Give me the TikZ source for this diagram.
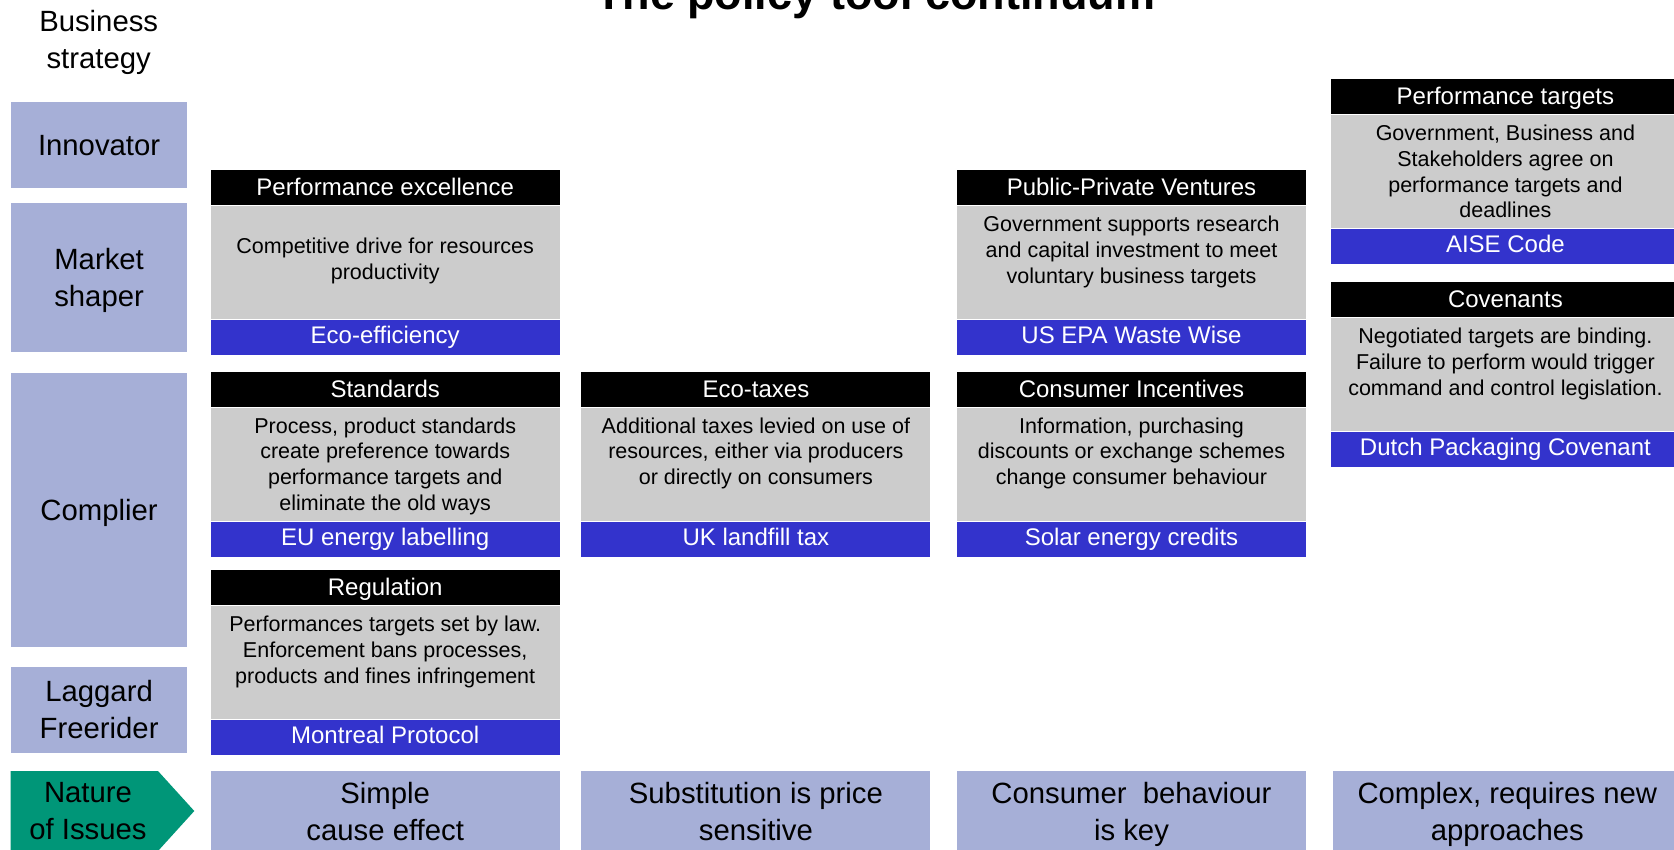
\documentclass[tikz,border=0pt]{standalone}
\usepackage{fontspec}
\setmainfont{Liberation Sans}
\definecolor{lav}{RGB}{166,175,215}
\definecolor{blu}{RGB}{51,51,204}
\definecolor{gry}{RGB}{204,204,204}
\definecolor{grn}{RGB}{0,150,120}

\begin{document}
\begin{tikzpicture}[x=0.5pt, y=-0.5pt,
    hd/.style={fill=black, text=white, minimum width=174.5pt, minimum height=17.5pt, inner sep=0pt,
        anchor=north west, font=\fontsize{12}{14}\selectfont, text height=10.2pt, text depth=2.5pt},
    bd/.style={fill=gry, minimum width=174.5pt, minimum height=56.5pt, inner sep=0pt, anchor=north west},
    ex/.style={hd, fill=blu, text height=8.6pt},
    tx/.style={anchor=north, inner xsep=0pt, inner ysep=4.9pt, align=center,
        font=\fontsize{10.75}{12.9}\selectfont, execute at begin node=\strut},
    lab/.style={fill=lav, minimum width=88pt, inner sep=0pt, align=center, anchor=north west,
        font=\fontsize{14.65}{18.5}\selectfont, text depth=0pt},
    iss/.style={lab, minimum width=174.5pt, minimum height=40pt}]
    \useasboundingbox (0,0) rectangle (1674,850);
    \clip (0,0) rectangle (1674,850);

    \node[anchor=base, font=\fontsize{22.5}{27}\selectfont\bfseries] (ttl) at (875,9.5) {The policy tool continuum};
    \node[align=center, font=\fontsize{14.65}{18.5}\selectfont, text depth=0pt] (bs) at (98.7,39) {Business\\strategy};

    \node[lab, minimum height=43.25pt] (inn) at (10.7,101.4) {Innovator};
    \node[lab, minimum height=74.2pt] (mkt) at (10.7,202.8) {Market\\shaper};
    \node[lab, minimum height=137.2pt] (cpl) at (10.7,372.6) {Complier};
    \node[lab, minimum height=43.25pt] (lag) at (10.7,666.2) {Laggard\\Freerider};

    \fill[grn] (10.7,771) -- (158,771) -- (194.3,811) -- (158,851) -- (10.7,851) -- cycle;
    \node[align=center, font=\fontsize{14.65}{18.5}\selectfont] (noi) at (88,811) {Nature\\of Issues};

    \node[hd] (pe-h) at (210.3,170) {Performance excellence};
    \node[bd] (pe-g) at (pe-h.south west) {};
    \node[ex] (pe-f) at (pe-g.south west) {Eco-efficiency};
    \node[tx, anchor=center] (pe-t) at (pe-g.center) {Competitive drive for resources\\productivity};

    \node[hd] (ppv-h) at (956.6,170) {Public-Private Ventures};
    \node[bd] (ppv-g) at (ppv-h.south west) {};
    \node[ex] (ppv-f) at (ppv-g.south west) {US EPA Waste Wise};
    \node[tx] (ppv-t) at (ppv-g.north) {Government supports research\\and capital investment to meet\\voluntary business targets};

    \node[hd] (pt-h) at (1330.5,79) {Performance targets};
    \node[bd] (pt-g) at (pt-h.south west) {};
    \node[ex] (pt-f) at (pt-g.south west) {AISE Code};
    \node[tx] (pt-t) at (pt-g.north) {Government, Business and\\Stakeholders agree on\\performance targets and\\deadlines};

    \node[hd] (cov-h) at (1330.5,282) {Covenants};
    \node[bd] (cov-g) at (cov-h.south west) {};
    \node[ex] (cov-f) at (cov-g.south west) {Dutch Packaging Covenant};
    \node[tx] (cov-t) at (cov-g.north) {Negotiated targets are binding.\\Failure to perform would trigger\\command and control legislation.};

    \node[hd] (std-h) at (210.3,371.5) {Standards};
    \node[bd] (std-g) at (std-h.south west) {};
    \node[ex] (std-f) at (std-g.south west) {EU energy labelling};
    \node[tx] (std-t) at (std-g.north) {Process, product standards\\create preference towards\\performance targets and\\eliminate the old ways};

    \node[hd] (eco-h) at (581,371.5) {Eco-taxes};
    \node[bd] (eco-g) at (eco-h.south west) {};
    \node[ex] (eco-f) at (eco-g.south west) {UK landfill tax};
    \node[tx] (eco-t) at (eco-g.north) {Additional taxes levied on use of\\resources, either via producers\\or directly on consumers};

    \node[hd] (ci-h) at (956.6,371.5) {Consumer Incentives};
    \node[bd] (ci-g) at (ci-h.south west) {};
    \node[ex] (ci-f) at (ci-g.south west) {Solar energy credits};
    \node[tx] (ci-t) at (ci-g.north) {Information, purchasing\\discounts or exchange schemes\\change consumer behaviour};

    \node[hd] (reg-h) at (210.3,570) {Regulation};
    \node[bd] (reg-g) at (reg-h.south west) {};
    \node[ex] (reg-f) at (reg-g.south west) {Montreal Protocol};
    \node[tx] (reg-t) at (reg-g.north) {Performances targets set by law.\\Enforcement bans processes,\\products and fines infringement};

    \node[iss] (is1) at (210.3,771) {Simple\\cause effect};
    \node[iss] (is2) at (581,771) {Substitution is price\\sensitive};
    \node[iss] (is3) at (956.6,771) {Consumer\ \ behaviour\\is key};
    \node[iss] (is4) at (1332.4,771) {Complex, requires new\\approaches};
\end{tikzpicture}
\end{document}
